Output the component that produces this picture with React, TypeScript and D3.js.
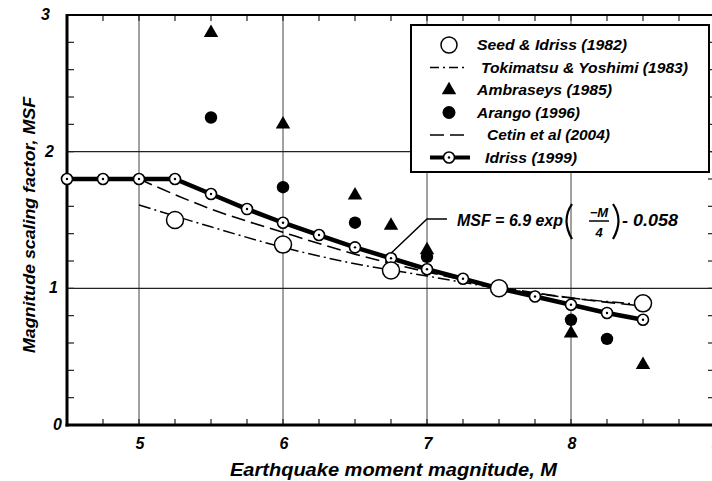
import React from 'react';
import * as d3 from 'd3';

// magnitude / MSF values
const idrissM = [4.5, 4.75, 5.0, 5.25, 5.5, 5.75, 6.0, 6.25, 6.5, 6.75, 7.0, 7.25, 7.5, 7.75, 8.0, 8.25, 8.5];
const idrissMSF = [1.8, 1.8, 1.8, 1.8, 1.69, 1.58, 1.48, 1.39, 1.3, 1.22, 1.14, 1.07, 1.0, 0.94, 0.88, 0.82, 0.77];

const seedM = [5.25, 6.0, 6.75, 7.5, 8.5];
const seedMSF = [1.5, 1.32, 1.13, 1.0, 0.89];

const tokiM = [5.0, 5.5, 6.0, 6.5, 7.0, 7.5, 8.0, 8.5];
const tokiMSF = [1.61, 1.45, 1.3, 1.18, 1.09, 1.0, 0.93, 0.88];

const cetinM = [5.0, 5.5, 6.0, 6.5, 7.0, 7.5, 8.0, 8.5];
const cetinMSF = [1.8, 1.58, 1.41, 1.25, 1.12, 1.01, 0.93, 0.87];

const ambraM = [5.5, 6.0, 6.5, 6.75, 7.0, 8.0, 8.5];
const ambraMSF = [2.87, 2.2, 1.68, 1.46, 1.28, 0.67, 0.44];

const arangoM = [5.5, 6.0, 6.5, 7.0, 8.0, 8.25];
const arangoMSF = [2.25, 1.74, 1.48, 1.23, 0.77, 0.63];

const xTickLabels = [5, 6, 7, 8, 9];
const yTickLabels = [0, 1, 2, 3];
const xGrid = [5, 6, 7, 8];
const yGrid = [1, 2];

const legendLabels = [
    'Seed & Idriss (1982)',
    'Tokimatsu & Yoshimi (1983)',
    'Ambraseys (1985)',
    'Arango (1996)',
    'Cetin et al (2004)',
    'Idriss (1999)'
];
// where each legend label starts and how wide it runs in the scan
const legendTextX = [477, 481, 477, 477, 487, 485];
const legendTextW = [150, 207, 135, 103, 123, 92];

const FONT = '"Liberation Sans", Arial, sans-serif';

export default function App() {
    const x = d3.scaleLinear().domain([4.5, 9]).range([67, 715]);
    const y = d3.scaleLinear().domain([0, 3]).range([425, 15]);

    const line = (ms: number[], vs: number[]) =>
        d3.line<number>()
            .x((d, i) => x(ms[i]))
            .y(d => y(d))
            .curve(d3.curveMonotoneX)(vs) as string;

    const idrissLine = d3.line<number>()
        .x((d, i) => x(idrissM[i]))
        .y(d => y(d))(idrissMSF) as string;

    const tri = d3.symbol().type(d3.symbolTriangle).size(90)() as string;

    const xMinor = d3.range(4.75, 9, 0.25);
    const yMinor = d3.range(0.2, 3, 0.2);

    const x0 = x(4.5), x1 = x(9), yb = y(0), yt = y(3);

    // annotation anchor on Idriss curve
    const ax = x(6.75), ay = y(1.22);
    const eqX = 457, eqY = 226;

    const legX = 411, legY = 25, legW = 298, legH = 147;
    const rowY = (i: number) => legY + 20 + i * 22.5;

    return (
        <div style={{position: 'fixed', left: 0, top: 0}}>
            <svg width={712} height={481} style={{display: 'block', background: '#fff'}}>
                {/* grid */}
                {xGrid.map(v => (
                    <line key={'gx' + v} x1={x(v)} x2={x(v)} y1={yt} y2={yb} stroke='#444' strokeWidth={1}/>
                ))}
                {yGrid.map(v => (
                    <line key={'gy' + v} x1={x0} x2={x1} y1={y(v)} y2={y(v)} stroke='#222' strokeWidth={1.2}/>
                ))}

                {/* minor ticks */}
                {xMinor.map(v => (
                    <g key={'xt' + v}>
                        <line x1={x(v)} x2={x(v)} y1={yb} y2={yb - 6} stroke='#222' strokeWidth={1.2}/>
                        <line x1={x(v)} x2={x(v)} y1={yt} y2={yt + 6} stroke='#222' strokeWidth={1.2}/>
                    </g>
                ))}
                {yMinor.map(v => (
                    <g key={'yt' + v}>
                        <line x1={x0} x2={x0 + 7} y1={y(v)} y2={y(v)} stroke='#222' strokeWidth={1.2}/>
                        <line x1={x1} x2={x1 - 7} y1={y(v)} y2={y(v)} stroke='#222' strokeWidth={1.2}/>
                    </g>
                ))}

                {/* frame */}
                <line x1={x0} x2={x1} y1={yt} y2={yt} stroke='#000' strokeWidth={2}/>
                <line x1={x1} x2={x1} y1={yt} y2={yb} stroke='#000' strokeWidth={2}/>
                <line x1={x0} x2={x0} y1={yt - 1} y2={yb + 1.5} stroke='#000' strokeWidth={3}/>
                <line x1={x0 - 1.5} x2={x1} y1={yb} y2={yb} stroke='#000' strokeWidth={3}/>

                {/* tick labels */}
                {xTickLabels.map(v => (
                    <text key={'xl' + v} x={x(v) + 1} y={449} textAnchor='middle'
                        fontFamily={FONT} fontWeight='bold' fontStyle='italic' fontSize={16}>{v}</text>
                ))}
                {yTickLabels.map(v => (
                    <text key={'yl' + v} x={x0 - 9 + (v - 1) * -4} y={y(v) + 5} textAnchor='end'
                        fontFamily={FONT} fontWeight='bold' fontStyle='italic' fontSize={16}>{v}</text>
                ))}

                {/* axis titles */}
                <text x={230} y={476} textLength={327} lengthAdjust='spacingAndGlyphs' fontFamily={FONT}
                    fontWeight='bold' fontStyle='italic' fontSize={18}>Earthquake moment magnitude, M</text>
                <text transform='translate(35,353) rotate(-90)' textLength={256} lengthAdjust='spacingAndGlyphs'
                    fontFamily={FONT} fontWeight='bold' fontStyle='italic' fontSize={16}>Magnitude scaling factor, MSF</text>

                {/* Cetin dashed */}
                <path d={line(cetinM, cetinMSF)} fill='none' stroke='#000' strokeWidth={1.6} strokeDasharray='14,6'/>
                {/* Tokimatsu dash-dot */}
                <path d={line(tokiM, tokiMSF)} fill='none' stroke='#000' strokeWidth={1.5} strokeDasharray='12,4,2,4'/>

                {/* Idriss */}
                <path d={idrissLine} fill='none' stroke='#000' strokeWidth={4.5}/>
                {idrissM.map((m, i) => (
                    <g key={'id' + i} transform={`translate(${x(m)},${y(idrissMSF[i])})`}>
                        <circle r={5.5} fill='#fff' stroke='#000' strokeWidth={1.6}/>
                        <circle r={1.2} fill='#000'/>
                    </g>
                ))}

                {/* Seed & Idriss */}
                {seedM.map((m, i) => (
                    <circle key={'sd' + i} cx={x(m)} cy={y(seedMSF[i])} r={8.5} fill='#fff' stroke='#000' strokeWidth={1.5}/>
                ))}

                {/* Arango */}
                {arangoM.map((m, i) => (
                    <circle key={'ar' + i} cx={x(m)} cy={y(arangoMSF[i])} r={6.2} fill='#000'/>
                ))}

                {/* Ambraseys */}
                {ambraM.map((m, i) => (
                    <path key={'am' + i} d={tri} transform={`translate(${x(m)},${y(ambraMSF[i])})`} fill='#000'/>
                ))}

                {/* equation annotation */}
                <polyline points={`${eqX - 10},${eqY - 7} ${x(7)},${eqY - 7} ${ax},${ay - 5}`} fill='none' stroke='#000' strokeWidth={1.5}/>
                <g fontFamily={FONT} fontWeight='bold' fontStyle='italic' fontSize={16}>
                    <text x={eqX} y={eqY} textLength={106} lengthAdjust='spacingAndGlyphs'>MSF = 6.9 exp</text>
                    <path d={`M ${eqX + 115},${eqY - 22} Q ${eqX + 104},${eqY - 6} ${eqX + 115},${eqY + 13}`} fill='none' stroke='#000' strokeWidth={2.2}/>
                    <text x={eqX + 142} y={eqY - 9} textAnchor='middle' fontSize={13}>−M</text>
                    <line x1={eqX + 132} x2={eqX + 152} y1={eqY - 5} y2={eqY - 5} stroke='#000' strokeWidth={1.5}/>
                    <text x={eqX + 142} y={eqY + 11} textAnchor='middle' fontSize={13}>4</text>
                    <path d={`M ${eqX + 156},${eqY - 22} Q ${eqX + 167},${eqY - 6} ${eqX + 156},${eqY + 13}`} fill='none' stroke='#000' strokeWidth={2.2}/>
                    <text x={eqX + 165} y={eqY} textLength={56} lengthAdjust='spacingAndGlyphs'>- 0.058</text>
                </g>

                {/* legend */}
                <rect x={legX} y={legY} width={legW} height={legH} fill='#fff' stroke='#000' strokeWidth={2}/>
                <g>
                    <circle cx={449} cy={rowY(0)} r={8} fill='#fff' stroke='#000' strokeWidth={1.5}/>
                    <line x1={430} x2={465} y1={rowY(1)} y2={rowY(1)} stroke='#000' strokeWidth={1.5} strokeDasharray='9,4,2,4'/>
                    <path d={tri} transform={`translate(449,${rowY(2)})`} fill='#000'/>
                    <circle cx={449} cy={rowY(3)} r={6.5} fill='#000'/>
                    <line x1={430} x2={468} y1={rowY(4)} y2={rowY(4)} stroke='#000' strokeWidth={1.6} strokeDasharray='14,6'/>
                    <line x1={430} x2={470} y1={rowY(5)} y2={rowY(5)} stroke='#000' strokeWidth={4}/>
                    <circle cx={449} cy={rowY(5)} r={5.5} fill='#fff' stroke='#000' strokeWidth={1.6}/>
                    <circle cx={449} cy={rowY(5)} r={1.2} fill='#000'/>
                    {legendLabels.map((t, i) => (
                        <text key={t} x={legendTextX[i]} y={rowY(i) + 5} textLength={legendTextW[i]}
                            lengthAdjust='spacingAndGlyphs'
                            fontFamily={FONT} fontWeight='bold' fontStyle='italic' fontSize={15}>{t}</text>
                    ))}
                </g>
            </svg>
        </div>
    );
}
